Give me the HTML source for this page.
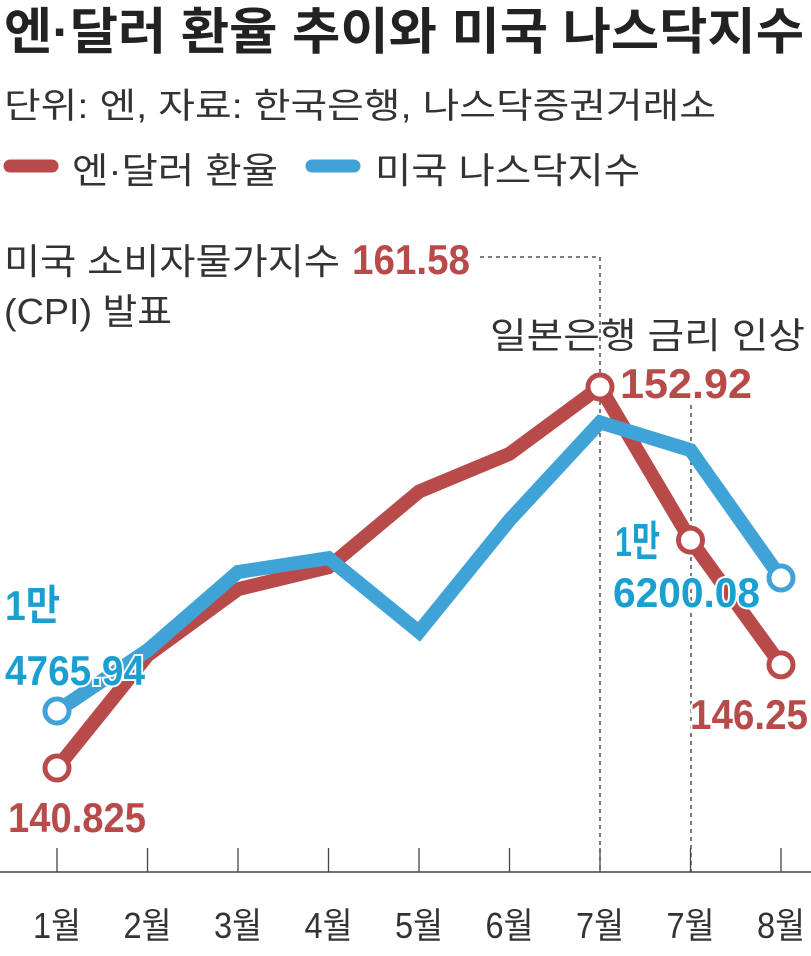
<!DOCTYPE html>
<html><head><meta charset="utf-8"><style>
html,body{margin:0;padding:0;background:#fff;}
svg{display:block;font-family:"Liberation Sans","Noto Sans CJK KR",sans-serif;}
</style></head><body>
<svg id="chart" width="811" height="956" viewBox="0 0 811 956">
<text x="4" y="49" font-size="50" font-weight="bold" fill="#222" textLength="800" lengthAdjust="spacingAndGlyphs">엔·달러 환율 추이와 미국 나스닥지수</text>
<text x="4" y="118" font-size="35" fill="#333" textLength="712" lengthAdjust="spacingAndGlyphs">단위: 엔, 자료: 한국은행, 나스닥증권거래소</text>
<g>
<line x1="10" y1="166" x2="52" y2="166" stroke="#b84a4a" stroke-width="13" stroke-linecap="round"/>
<text x="72" y="183" font-size="36" fill="#333" textLength="206" lengthAdjust="spacingAndGlyphs">엔·달러 환율</text>
</g>
<g>
<line x1="312" y1="166" x2="354" y2="166" stroke="#3fa3d8" stroke-width="13" stroke-linecap="round"/>
<text x="375" y="183" font-size="36" fill="#333" textLength="265" lengthAdjust="spacingAndGlyphs">미국 나스닥지수</text>
</g>
<text x="4" y="274" font-size="36" fill="#333" textLength="336" lengthAdjust="spacingAndGlyphs">미국 소비자물가지수</text>
<text x="352" y="274" font-size="42" font-weight="bold" fill="#b84a4a" textLength="118" lengthAdjust="spacingAndGlyphs">161.58</text>
<text x="4" y="324" font-size="36" fill="#333" textLength="168" lengthAdjust="spacingAndGlyphs">(CPI) 발표</text>
<text x="490" y="348" font-size="36" fill="#333" textLength="315" lengthAdjust="spacingAndGlyphs">일본은행 금리 인상</text>
<path d="M480 257 H600 V872" fill="none" stroke="#333" stroke-width="1.3" stroke-dasharray="4,4"/>
<line x1="691" y1="405" x2="691" y2="872" stroke="#333" stroke-width="1.3" stroke-dasharray="4,4"/>
<line x1="0" y1="872" x2="811" y2="872" stroke="#444" stroke-width="1.5"/>
<g id="ticks"></g>
<g id="series"></g>
<g id="labels"></g>
</svg>
<script>
const months = ["1월","2월","3월","4월","5월","6월","7월","7월","8월"];
const yenValues = [140.825, 144.4, 146.5, 147.2, 149.6, 150.8, 152.92, 148.06, 144.1];
const nasdaqValues = [14765.94, 15420, 16265, 16415, 15620, 16825, 17880, 17580, 16200.08];
const yenMarkers = [0, 6, 7, 8];
const nasdaqMarkers = [0, 8];

const NS = "http://www.w3.org/2000/svg";
const xScale = i => 57 + i * 90.5;
const yYen = v => 768 - (v - 140.825) * 31.5;
const yNas = v => 711 - (v - 14765.94) * 0.0927;

function mk(tag, attrs, parent) {
  const el = document.createElementNS(NS, tag);
  for (const k in attrs) el.setAttribute(k, attrs[k]);
  parent.appendChild(el);
  return el;
}
const ticks = document.getElementById('ticks');
months.forEach((m, i) => {
  const t = mk('line', {x1: xScale(i), x2: xScale(i), y1: 848, y2: 872, stroke: '#444', 'stroke-width': 1.3}, ticks);
  
  
  const lb = mk('text', {x: xScale(i), y: 938, 'font-size': 36, fill: '#333', 'text-anchor': 'middle', textLength: 48, lengthAdjust: 'spacingAndGlyphs'}, ticks);
  lb.textContent = m;
  
  
});
const series = document.getElementById('series');
function drawSeries(vals, yf, color, markers, name) {
  const pts = vals.map((v, i) => xScale(i) + ',' + yf(v)).join(' ');
  const pl = mk('polyline', {points: pts, fill: 'none', stroke: color, 'stroke-width': 14, 'stroke-linejoin': 'miter'}, series);
  
  
  markers.forEach(i => {
    const c = mk('circle', {cx: xScale(i), cy: yf(vals[i]), r: 12, fill: '#fff', stroke: color, 'stroke-width': 5}, series);
    
    
  });
}
drawSeries(yenValues, yYen, '#b84a4a', yenMarkers, 'yen');
drawSeries(nasdaqValues, yNas, '#3fa3d8', nasdaqMarkers, 'nasdaq');

const labels = document.getElementById('labels');
const labelSpecs = [
  ["152.92", 620, 398, 132, '#b84a4a', 'yen-peak-label'],
  ["146.25", 690, 729, 118, '#b84a4a', 'yen-last-label'],
  ["140.825", 8, 832, 138, '#b84a4a', 'yen-first-label'],
  ["1만", 615, 556, 45, '#1a9fd0', 'nasdaq-last-label-unit'],
  ["6200.08", 613, 607, 147, '#1a9fd0', 'nasdaq-last-label'],
  ["1만", 5, 620, 55, '#1a9fd0', 'nasdaq-first-label-unit'],
  ["4765.94", 5, 685, 140, '#1a9fd0', 'nasdaq-first-label']
];
labelSpecs.forEach(s => {
  const t = mk('text', {x: s[1], y: s[2], 'font-size': 42, 'font-weight': 'bold', fill: s[4], textLength: s[3], lengthAdjust: 'spacingAndGlyphs', stroke: '#fff', 'stroke-width': 4, 'paint-order': 'stroke'}, labels);
  t.textContent = s[0];
  
  
});
</script>
</body></html>
